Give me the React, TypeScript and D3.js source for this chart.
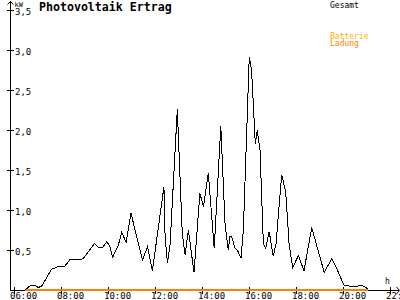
import React from "react";
import * as d3 from "d3";

// Time of day in hours, PV output (Gesamt) in kW
const times = [
  6.47, 6.71, 6.89, 7.03, 7.18, 7.6, 7.79, 7.93, 8.17, 8.38, 8.88, 9.02, 9.42, 9.59, 9.77, 9.94,
  10.06, 10.2, 10.44, 10.58, 10.77, 10.98, 11.15, 11.47, 11.68, 11.89, 12.38, 12.43, 12.53, 12.64,
  12.95, 13.16, 13.28, 13.42, 13.66, 13.91, 14.06, 14.27, 14.52, 14.8, 14.98, 15.12, 15.19, 15.26,
  15.4, 15.5, 15.66, 15.76, 16.01, 16.11, 16.27, 16.35, 16.47, 16.61, 16.71, 16.86, 17.03, 17.15,
  17.39, 17.56, 17.71, 17.86, 18.1, 18.34, 18.67, 19.2, 19.52, 19.73, 20.04, 20.48, 20.8, 21.08,
];
const gesamt = [
  0, 0.06, 0.06, 0.03, 0.05, 0.26, 0.28, 0.3, 0.3, 0.38, 0.38, 0.42, 0.58, 0.53, 0.53, 0.6,
  0.56, 0.41, 0.56, 0.72, 0.6, 0.96, 0.75, 0.375, 0.54, 0.24, 1.29, 0.66, 0.34, 0.56,
  2.26, 0.71, 0.44, 0.75, 0.22, 1.21, 1.04, 1.46, 0.52, 2.05, 0.83, 0.5, 0.675, 0.67,
  0.525, 0.5, 0.4, 0.75, 2.91, 2.75, 1.82, 2.0, 1.75, 0.58, 0.52, 0.73, 0.42, 0.58,
  1.44, 1.23, 0.56, 0.28, 0.43, 0.24, 0.78, 0.22, 0.39, 0.27, 0.06, 0.04, 0.06, 0.01,
];
// Batterie Ladung (charging) – zero all day
const ladungTimes = [6.47, 21.06];
const ladung = [0, 0];

const yTicks = [0.5, 1.0, 1.5, 2.0, 2.5, 3.0, 3.5];
const xTicks = [6, 8, 10, 12, 14, 16, 18, 20, 22];
const title = "Photovoltaik Ertrag";
const legendGesamt = "Gesamt";
const legendBatterie = "Batterie";
const legendLadung = "Ladung";

const FONT = "'DejaVu Sans Mono', monospace";

export default function App() {
  const x = d3.scaleLinear().domain([6, 22]).range([14, 390]);
  const y = d3.scaleLinear().domain([0, 3.5]).range([290, 10]);

  const line = d3
    .line<[number, number]>()
    .x((d) => x(d[0]))
    .y((d) => y(d[1]));

  const gesamtPts: [number, number][] = times.map((t, i) => [t, gesamt[i]]);
  const ladungPts: [number, number][] = ladungTimes.map((t, i) => [t, ladung[i]]);

  const x0 = 10;
  const y0 = y(0);

  const fmtY = (v: number) => v.toFixed(1).replace(".", ",");
  const fmtX = (h: number) => `${String(h).padStart(2, "0")}:00`;

  return (
    <svg
      width={400}
      height={300}
      style={{ position: "fixed", left: 0, top: 0, background: "#fff" }}
    >
      <rect x={0} y={0} width={400} height={300} fill="#fff" />
      {/* axes */}
      <g stroke="#000" strokeWidth={1} shapeRendering="crispEdges" fill="none">
        <line x1={x0 + 0.5} y1={1} x2={x0 + 0.5} y2={y0 + 0.5} />
        <line x1={x0} y1={y0 + 0.5} x2={399} y2={y0 + 0.5} />
        {yTicks.map((v) => (
          <line key={v} x1={7} x2={14} y1={Math.round(y(v)) + 0.5} y2={Math.round(y(v)) + 0.5} />
        ))}
        {xTicks.map((h) => (
          <line key={h} x1={Math.round(x(h)) + 0.5} x2={Math.round(x(h)) + 0.5} y1={287} y2={294} />
        ))}
      </g>
      {/* arrows */}
      <path d="M7.5,4.5 L10.5,1.5 L13.5,4.5" stroke="#000" fill="none" strokeWidth={1} />
      <path d="M396.5,287 L399.5,290.5 L396.5,294" stroke="#000" fill="none" strokeWidth={1} />

      {/* y tick labels */}
      {yTicks.map((v) => (
        <text key={v} x={15} y={y(v) + 4.5} fontFamily={FONT} fontSize={9} fill="#000">
          {fmtY(v)}
        </text>
      ))}
      {/* x tick labels */}
      {xTicks.map((h) => (
        <text key={h} x={x(h) - 4} y={299} fontFamily={FONT} fontSize={9} fill="#000">
          {fmtX(h)}
        </text>
      ))}
      <text x={14.5} y={6.5} fontFamily={FONT} fontSize={7} fill="#000">
        kW
      </text>
      <text x={385} y={284} fontFamily={FONT} fontSize={8} fill="#000">
        h
      </text>

      {/* title */}
      <text x={39} y={11} fontFamily={FONT} fontSize={11.6} fontWeight="bold" fill="#000">
        {title}
      </text>

      {/* legend */}
      <text x={330} y={7.5} fontFamily={FONT} fontSize={8} fill="#000">
        {legendGesamt}
      </text>
      <text x={330} y={39} fontFamily={FONT} fontSize={8} fill="#ffb000">
        {legendBatterie}
      </text>
      <text x={330} y={46} fontFamily={FONT} fontSize={8} fill="#ff8000">
        {legendLadung}
      </text>

      {/* series */}
      <path
        d={line(ladungPts) ?? ""}
        stroke="#ff8000"
        strokeWidth={1.6}
        fill="none"
        shapeRendering="crispEdges"
      />
      <path
        d={line(gesamtPts) ?? ""}
        stroke="#000"
        strokeWidth={1}
        fill="none"
        shapeRendering="crispEdges"
      />
    </svg>
  );
}
